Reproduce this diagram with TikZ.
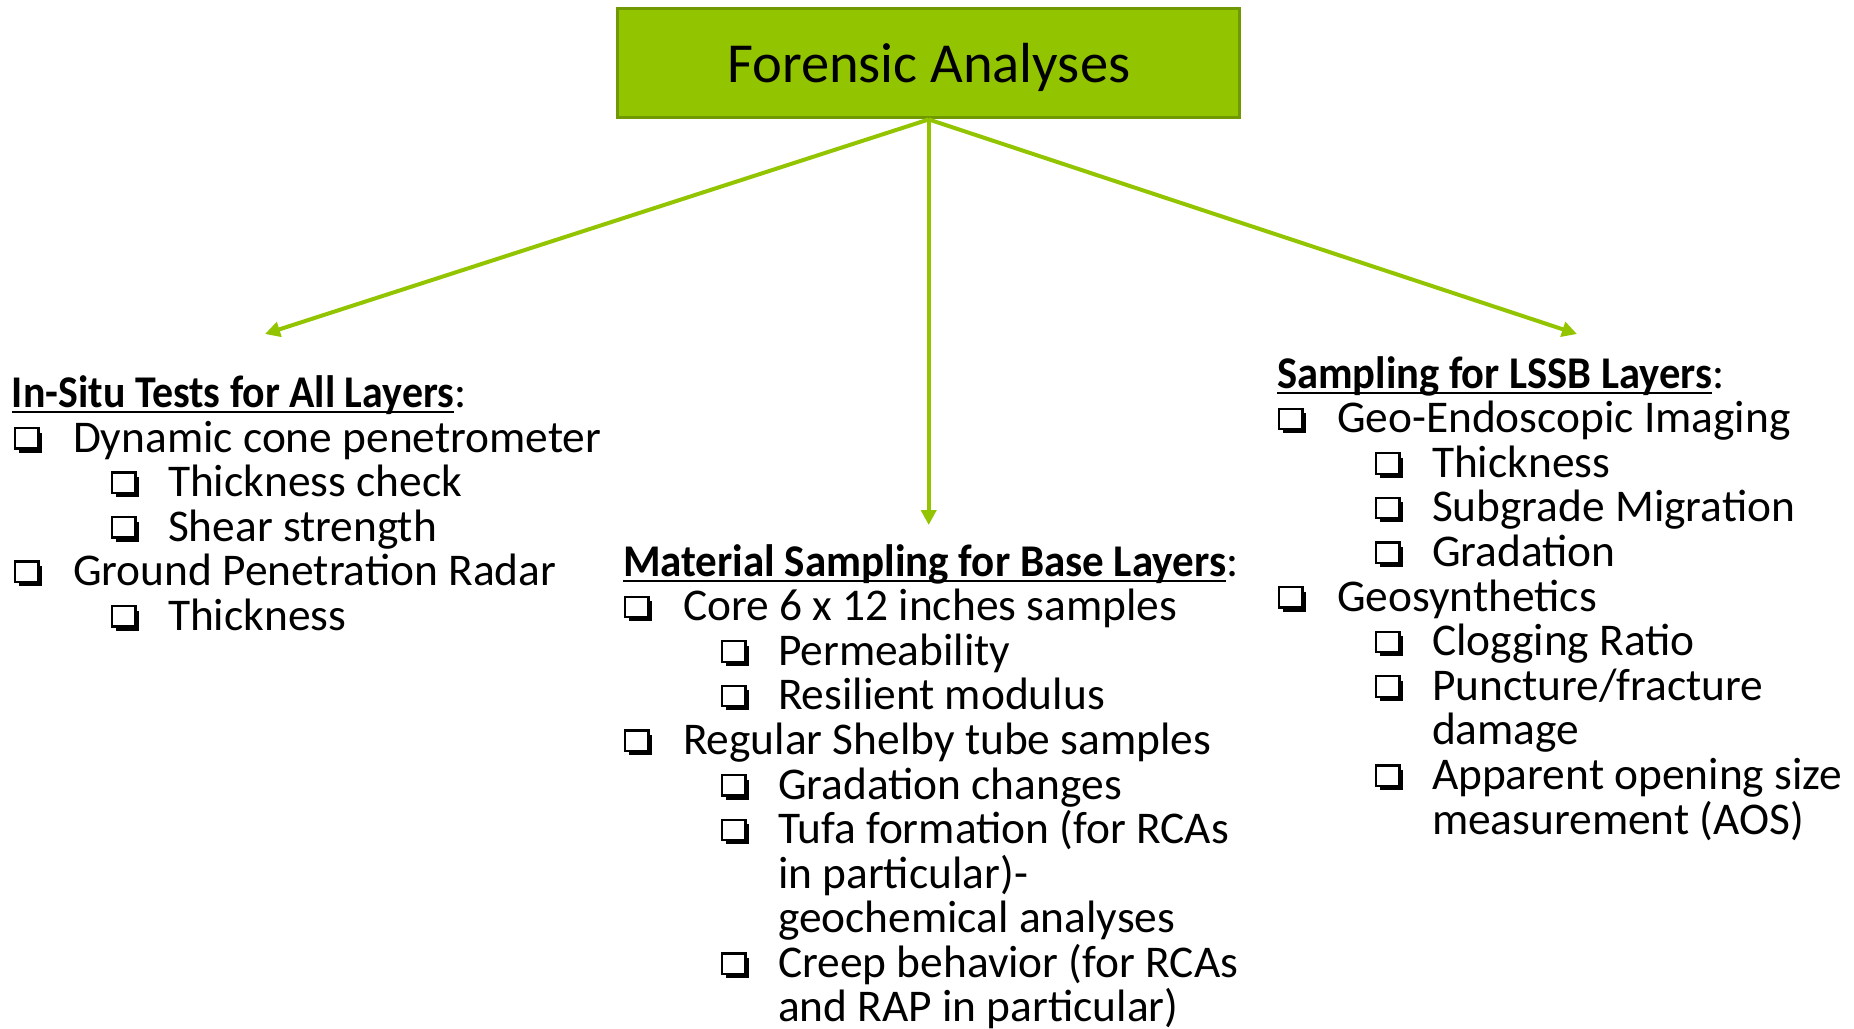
\documentclass[tikz,border=0pt]{standalone}
\usepackage{fontspec}
\setmainfont{Carlito}
\usetikzlibrary{arrows.meta}
\definecolor{fgreen}{RGB}{146,196,0}
\definecolor{fgreenD}{RGB}{112,152,0}
\newcommand\cbx[2]{%
  \fill[black] (#1+4,#2-19.5) rectangle (#1+27,#2+0.5);
  \filldraw[fill=white,draw=black,line width=2.2pt] (#1,#2-24) rectangle (#1+23.5,#2-3.5);}
\tikzset{
  txt/.style={inner sep=0pt,outer sep=0pt,anchor=base west,font=\fontsize{45.4}{50}\selectfont},
  hd/.style={txt,font=\fontsize{45.4}{50}\selectfont\bfseries},
  topbox/.style={draw=fgreenD,fill=fgreen,line width=3.5pt,minimum width=622pt,minimum height=109pt,inner sep=0pt,text depth=0pt,font=\fontsize{56.5}{60}\selectfont},
  arr/.style={draw=fgreen,line width=4pt,-{Triangle[length=15pt,width=15pt]}},
  uline/.style={line width=2.7pt}
}
\begin{document}
\begin{tikzpicture}[x=1pt,y=-1pt]
\useasboundingbox (0,0) rectangle (1854,1028);
% top box
\node[topbox] (top) at (928.7,63.2) {Forensic Analyses};
\coordinate (tl) at (265,334);
\coordinate (tm) at (928.7,525);
\coordinate (tr) at (1577,334);
\draw[arr] (top.south) -- (tl);
\draw[arr] (top.south) -- (tm);
\draw[arr] (top.south) -- (tr);

% ---------- left block
\node[hd] (h1) at (12,407) {\resizebox{442pt}{\height}{In-Situ Tests for All Layers}};
\node[txt] (h1c) at (h1.base east) {:};
\draw[uline] ([yshift=-5pt]h1.base west) -- ([yshift=-5pt]h1.base east);
\cbx{15}{452}\node[txt] (a1) at (73,452) {Dynamic cone penetrometer};
\cbx{112}{496.5}\node[txt] (a2) at (168,496.5) {Thickness check};
\cbx{112}{541}\node[txt] (a3) at (168,541) {Shear strength};
\cbx{15}{585.5}\node[txt] (a4) at (73,585.5) {Ground Penetration Radar};
\cbx{112}{630}\node[txt] (a5) at (168,630) {Thickness};

% ---------- middle block
\node[hd] (h2) at (623,576) {\resizebox{603pt}{\height}{Material Sampling for Base Layers}};
\node[txt] (h2c) at (h2.base east) {:};
\draw[uline] ([yshift=-5pt]h2.base west) -- ([yshift=-5pt]h2.base east);
\cbx{625}{620.6}\node[txt] (b1) at (683,620.6) {Core 6 x 12 inches samples};
\cbx{722}{665.2}\node[txt] (b2) at (778,665.2) {Permeability};
\cbx{722}{709.8}\node[txt] (b3) at (778,709.8) {Resilient modulus};
\cbx{625}{754.4}\node[txt] (b4) at (683,754.4) {Regular Shelby tube samples};
\cbx{722}{799}\node[txt] (b5) at (778,799) {Gradation changes};
\cbx{722}{843.6}\node[txt] (b6) at (778,843.6) {Tufa formation (for RCAs};
\node[txt] (b6b) at (778,888.2) {in particular)-};
\node[txt] (b6c) at (778,932.8) {geochemical analyses};
\cbx{722}{977.4}\node[txt] (b7) at (778,977.4) {Creep behavior (for RCAs};
\node[txt] (b7b) at (778,1021) {and RAP in particular)};

% ---------- right block
\node[hd] (h3) at (1277,388) {\resizebox{435pt}{\height}{Sampling for LSSB Layers}};
\node[txt] (h3c) at (h3.base east) {:};
\draw[uline] ([yshift=-5pt]h3.base west) -- ([yshift=-5pt]h3.base east);
\cbx{1279}{432.6}\node[txt] (c1) at (1337,432.6) {Geo-Endoscopic Imaging};
\cbx{1376}{477.2}\node[txt] (c2) at (1432,477.2) {Thickness};
\cbx{1376}{521.8}\node[txt] (c3) at (1432,521.8) {Subgrade Migration};
\cbx{1376}{566.4}\node[txt] (c4) at (1432,566.4) {Gradation};
\cbx{1279}{611}\node[txt] (c5) at (1337,611) {Geosynthetics};
\cbx{1376}{655.6}\node[txt] (c6) at (1432,655.6) {Clogging Ratio};
\cbx{1376}{700.2}\node[txt] (c7) at (1432,700.2) {Puncture/fracture};
\node[txt] (c7b) at (1432,744.8) {damage};
\cbx{1376}{789.4}\node[txt] (c8) at (1432,789.4) {Apparent opening size};
\node[txt] (c8b) at (1432,834) {measurement (AOS)};
\end{tikzpicture}
\end{document}
